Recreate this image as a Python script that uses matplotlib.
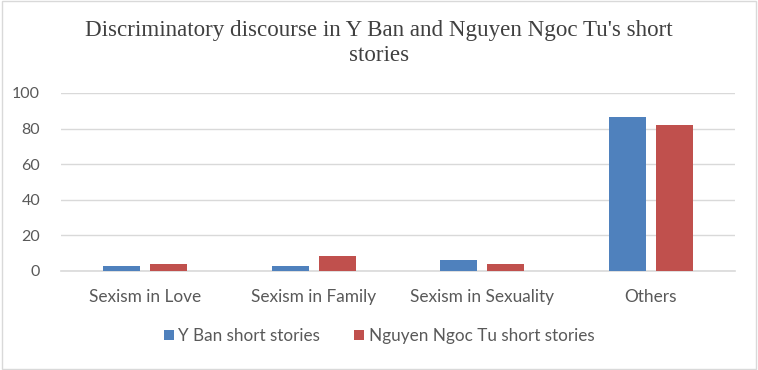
import matplotlib
matplotlib.use("Agg")
import matplotlib.pyplot as plt
import numpy as np
from matplotlib.patches import Rectangle

categorias = ["Sexism in Love", "Sexism in Family", "Sexism in Sexuality", "Others"]
y_ban = [2.8, 2.8, 6.2, 86.5]
nguyen = [3.9, 8.4, 4.0, 82.0]
series = ["Y Ban short stories", "Nguyen Ngoc Tu short stories"]

AZUL = "#4f81bd"
ROJO = "#c0504d"

fig = plt.figure(figsize=(7.58, 3.70), dpi=100)
ax = fig.add_axes([61 / 758, 99 / 370, 674 / 758, 178 / 370])

x = np.arange(len(categorias))
w = 0.22
ax.bar(x - 0.14, y_ban, w, color=AZUL, label=series[0], zorder=3)
ax.bar(x + 0.14, nguyen, w, color=ROJO, label=series[1], zorder=3)

ax.set_xlim(-0.5, len(categorias) - 0.5)
ax.set_ylim(0, 100)
ax.set_yticks(range(0, 101, 20))
ax.yaxis.grid(True, color="#d9d9d9", linewidth=1.0, zorder=0)
ax.set_xticks(x)
ax.set_xticklabels(categorias)
for s in ["top", "right", "left"]:
    ax.spines[s].set_visible(False)
ax.spines["bottom"].set_color("#d9d9d9")
ax.spines["bottom"].set_linewidth(1.2)
ax.tick_params(axis="both", length=0, labelcolor="#595959")
ax.tick_params(axis="x", pad=13, labelsize=12.4)
ax.tick_params(axis="y", pad=15, labelsize=11.5)
for lab in ax.get_xticklabels() + ax.get_yticklabels():
    lab.set_family("Lato")

fig.text(0.5, 0.884, "Discriminatory discourse in Y Ban and Nguyen Ngoc Tu's short\nstories",
         ha="center", va="center", fontsize=16.6, family="Liberation Serif",
         color="#404040", linespacing=1.2)

h, l = ax.get_legend_handles_labels()
fig.legend(h, l, loc="center", bbox_to_anchor=(0.5, 1 - 336 / 370),
           ncol=2, frameon=False, prop={"family": "Lato", "size": 12.3},
           handlelength=0.6, handleheight=0.6, columnspacing=2.0, handletextpad=0.25,
           labelcolor="#595959")

fig.add_artist(Rectangle((0.002, 0.003), 0.996, 0.994, transform=fig.transFigure,
                         fill=False, edgecolor="#d9d9d9", linewidth=1.0))

fig.savefig("out.png", dpi=100)
